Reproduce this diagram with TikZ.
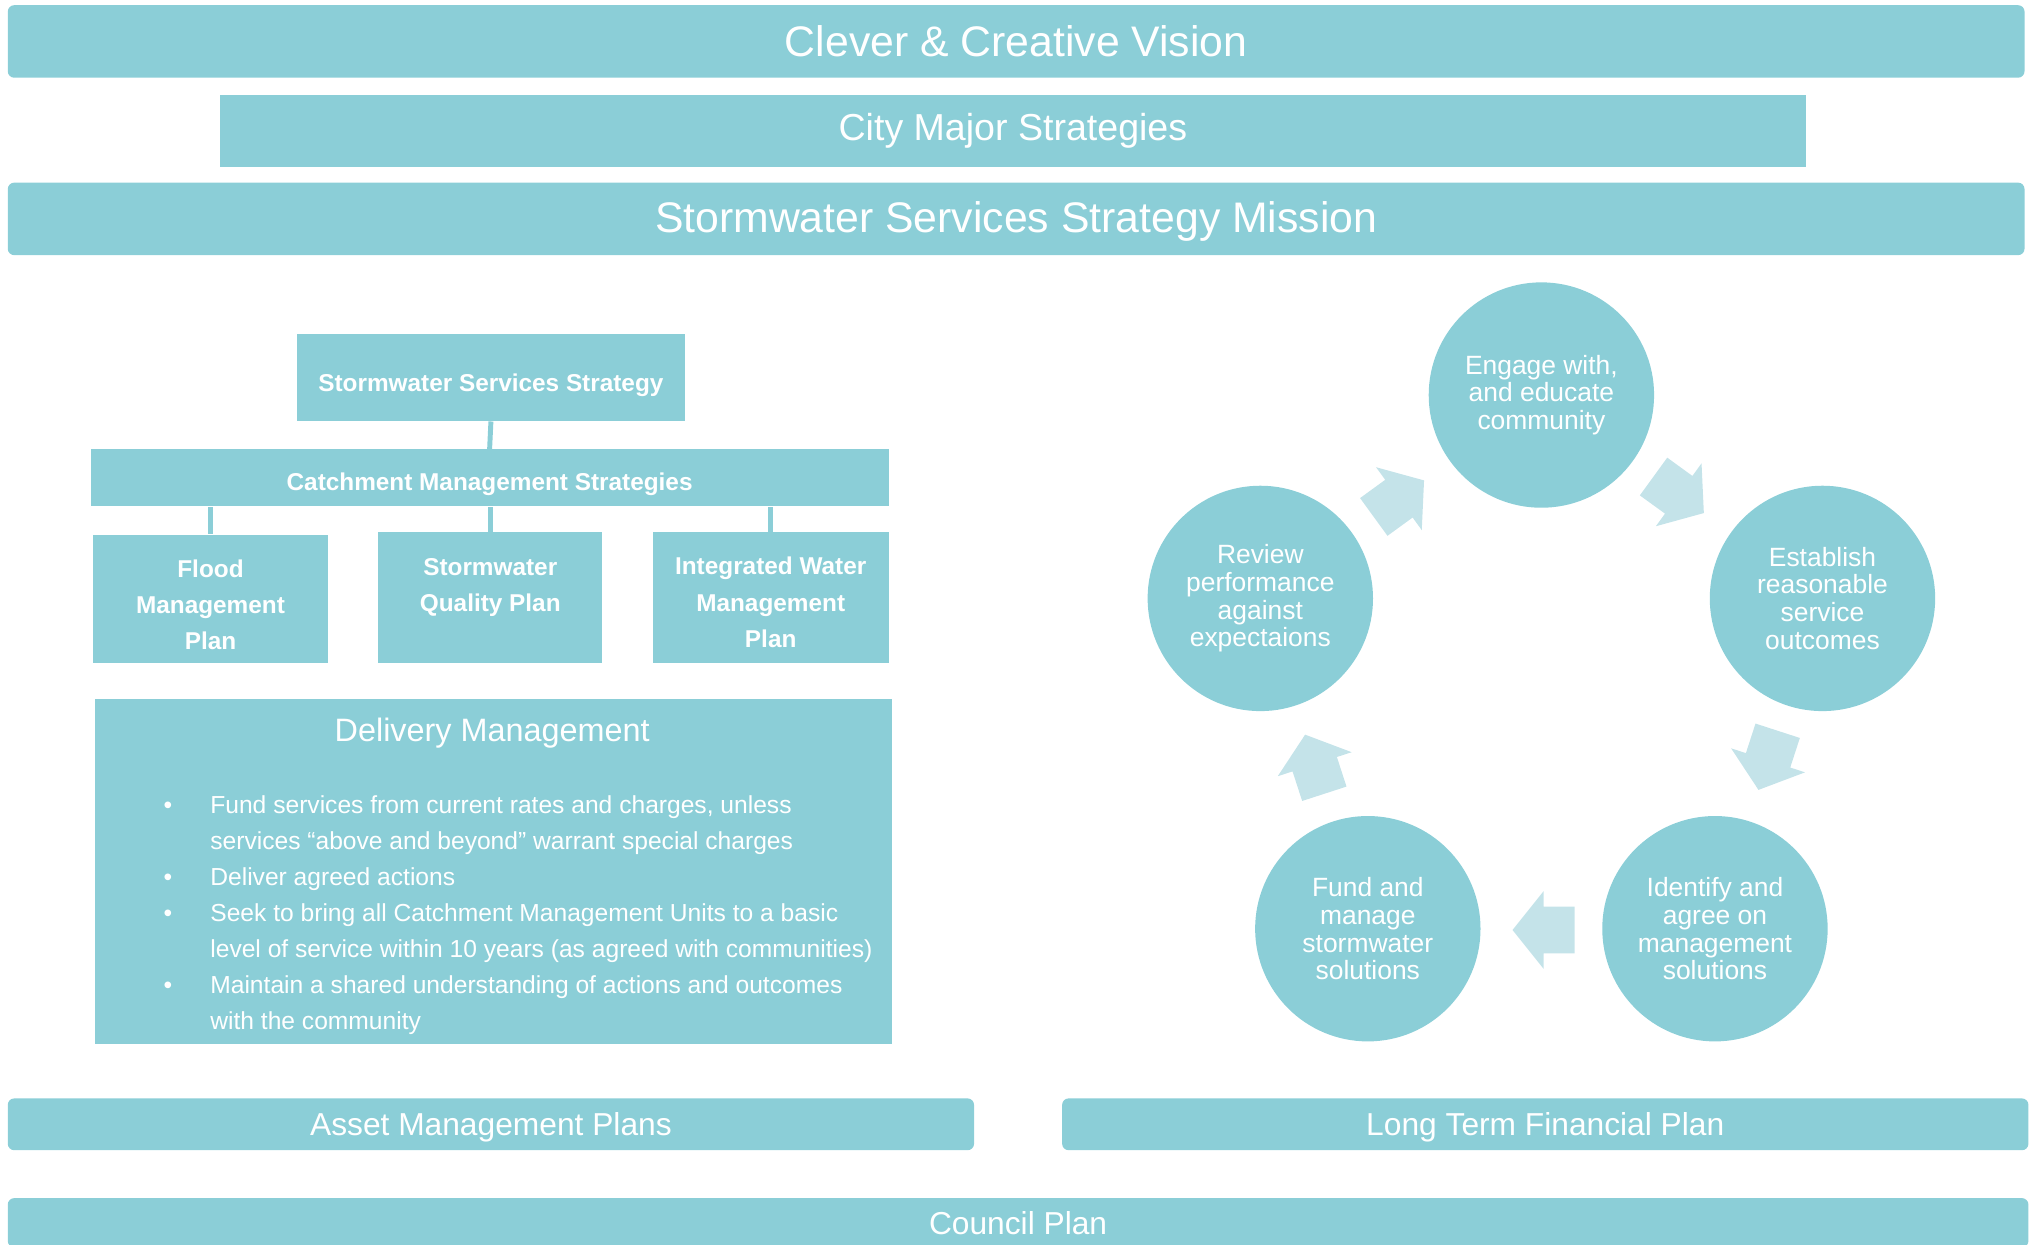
\documentclass[tikz,border=0pt]{standalone}
\usepackage{fontspec}
\setmainfont{Liberation Sans}
\definecolor{tealfill}{HTML}{8BCED7}
\definecolor{arrowfill}{HTML}{C4E3E9}
\begin{document}
\begin{tikzpicture}[x=0.5pt,y=-0.5pt,
  box/.style={fill=tealfill, draw=none, text=white, inner sep=0pt, align=center},
  bar/.style={box, rounded corners=2.5pt},
  treebox/.style={box},
  treetext/.style={text=white, inner sep=0pt, align=center, font=\bfseries\fontsize{9.4}{14}\selectfont},
  conn/.style={draw=tealfill, line width=1.9pt},
  circ/.style={circle, fill=tealfill, text=white, minimum size=87pt, inner sep=0pt, align=center, font=\fontsize{10.2}{10.7}\selectfont},
  cyclearrow/.style={fill=arrowfill, draw=none}
]
\useasboundingbox (0,0) rectangle (1568,961);

% top bars
\node[bar, minimum width=778.5pt, minimum height=28pt, font=\fontsize{16.5}{19}\selectfont] (vision) at (784.5,32) {Clever \& Creative Vision};
\node[box, minimum width=612pt, minimum height=28pt, font=\fontsize{14.5}{17}\selectfont] (city) at (782,101) {City Major Strategies};
\node[bar, minimum width=778.5pt, minimum height=28pt, text depth=1.5pt, font=\fontsize{16.5}{19}\selectfont] (mission) at (784.5,169) {Stormwater Services Strategy Mission};

% tree
\node[treebox, minimum width=150pt, minimum height=33.5pt] (sss) at (379,291.5) {};
\node[treebox, minimum width=308pt, minimum height=22pt] (cms) at (378,369) {};
\node[treebox, minimum width=90.5pt, minimum height=49.5pt] (flood) at (162.5,462.5) {};
\node[treebox, minimum width=86.5pt, minimum height=50.5pt] (swq) at (378.5,461.5) {};
\node[treebox, minimum width=91pt, minimum height=50.5pt] (iwm) at (595,461.5) {};
\node[treetext] (sss-t) at (379,297.5) {Stormwater Services Strategy};
\node[treetext] (cms-t) at (378,374) {Catchment Management Strategies};
\node[treetext] (flood-t) at (162.5,467) {Flood\\Management\\Plan};
\node[treetext] (swq-t) at (378.5,465.5) {Stormwater\\Quality Plan\\\mbox{}};
\node[treetext] (iwm-t) at (595,465) {Integrated Water\\Management\\Plan};
\draw[conn] (sss.south) -- (cms.north);
\draw[conn] (cms.south -| flood.north) -- (flood.north);
\draw[conn] (cms.south -| swq.north) -- (swq.north);
\draw[conn] (cms.south -| iwm.north) -- (iwm.north);

% delivery management
\node[box, minimum width=308pt, minimum height=133pt] (dm) at (381,673) {};
\node[text=white, inner sep=0pt, font=\fontsize{12.5}{15}\selectfont] (dmtitle) at (380,566) {Delivery Management};
\node[text=white, inner sep=0pt, anchor=base west, font=\fontsize{9.5}{13.9}\selectfont] (dmlist) at (126,628) {%
\begin{tabular}[t]{@{}p{18pt}@{}l@{}}
\textbullet & Fund services from current rates and charges, unless\\
 & services “above and beyond” warrant special charges\\
\textbullet & Deliver agreed actions\\
\textbullet & Seek to bring all Catchment Management Units to a basic\\
 & level of service within 10 years (as agreed with communities)\\
\textbullet & Maintain a shared understanding of actions and outcomes\\
 & with the community
\end{tabular}};

% cycle
\node[circ] (engage) at (1190,305) {Engage with,\\and educate\\community};
\node[circ] (establish) at (1407,462) {Establish\\reasonable\\service\\outcomes};
\node[circ] (identify) at (1324,717) {Identify and\\agree on\\management\\solutions};
\node[circ] (fund) at (1056,717) {Fund and\\manage\\stormwater\\solutions};
\node[circ] (review) at (973,462) {Review\\performance\\against\\expectaions};

\fill[cyclearrow, shift={(1080,385)}, rotate=36] (-24,-18) -- (0,-18) -- (0,-30) -- (24,0) -- (0,30) -- (0,18) -- (-24,18) -- cycle;
\fill[cyclearrow, shift={(1296,382)}, rotate=-36] (-24,-18) -- (0,-18) -- (0,-30) -- (24,0) -- (0,30) -- (0,18) -- (-24,18) -- cycle;
\fill[cyclearrow, shift={(1365,587)}, rotate=-108] (-24,-18) -- (0,-18) -- (0,-30) -- (24,0) -- (0,30) -- (0,18) -- (-24,18) -- cycle;
\fill[cyclearrow, shift={(1191.7,718)}, rotate=180] (-24,-18) -- (0,-18) -- (0,-30) -- (24,0) -- (0,30) -- (0,18) -- (-24,18) -- cycle;
\fill[cyclearrow, shift={(1015,590)}, rotate=108] (-24,-18) -- (0,-18) -- (0,-30) -- (24,0) -- (0,30) -- (0,18) -- (-24,18) -- cycle;

% bottom bars
\node[bar, minimum width=373pt, minimum height=20pt, text depth=0.6pt, font=\fontsize{12.25}{15}\selectfont] (amp) at (379,868) {Asset Management Plans};
\node[bar, minimum width=373pt, minimum height=20pt, text depth=0.6pt, font=\fontsize{12.25}{15}\selectfont] (ltfp) at (1193,868) {Long Term Financial Plan};
\node[bar, minimum width=780pt, minimum height=19pt, font=\fontsize{12.25}{15}\selectfont] (council) at (786,944) {Council Plan};
\end{tikzpicture}
\end{document}
